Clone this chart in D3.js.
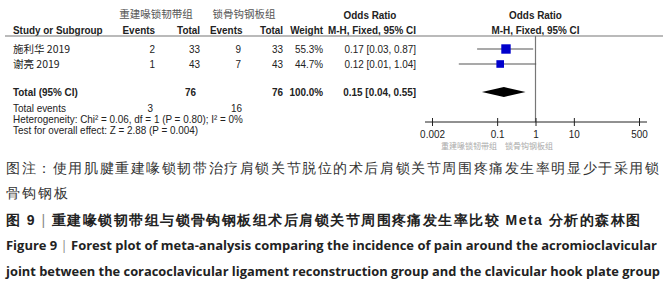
<!DOCTYPE html>
<html>
<head>
<meta charset="utf-8">
<script src="https://cdn.jsdelivr.net/npm/d3@7"></script>
<style>
  body { margin: 0; background: #fff; }
  svg text { font-family: "Liberation Sans", Arial, sans-serif; fill: #222; }
  .cjk { font-family: "Noto Sans CJK SC", sans-serif; }
</style>
</head>
<body>
<div id="chart"></div>
<script>
// data
const studies = ["施利华 2019", "谢亮 2019"];
const expEvents = [2, 1];
const expTotal = [33, 43];
const ctlEvents = [9, 7];
const ctlTotal = [33, 43];
const weights = [55.3, 44.7];
const orVal = [0.17, 0.12];
const orLo = [0.03, 0.01];
const orHi = [0.87, 1.04];
const pooled = {or: 0.15, lo: 0.04, hi: 0.55, expTotal: 76, ctlTotal: 76, expEvents: 3, ctlEvents: 16};
const axisTicks = [0.002, 0.1, 1, 10, 500];
const groupNames = ["重建喙锁韧带组", "锁骨钩钢板组"];

let w = 665, h = 300;

const svg = d3.select("#chart").append("svg")
  .attr("width", w)
  .attr("height", h);

const fmt2 = d3.format(".2f");

// log scale for the plot
let xScale = d3.scaleLog()
  .domain([0.002, 500])
  .range([432, 639]);

let sizeScale = d3.scaleLinear().domain([0, 100]).range([0, 17]);

let yRow = d3.scalePoint().domain(studies).range([49, 64]);

const axisY = 122;
const headY = 36;

// group headers
svg.append("text").attr("class", "cjk").attr("x", 156).attr("y", 18)
  .attr("text-anchor", "middle").style("font-size", "10.5px").style("fill", "#555")
  .text(groupNames[0]);
svg.append("text").attr("class", "cjk").attr("x", 244).attr("y", 18)
  .attr("text-anchor", "middle").style("font-size", "10.5px").style("fill", "#555")
  .text(groupNames[1]);

svg.append("text").attr("class", "narrow").attr("x", 370).attr("y", 19).attr("text-anchor", "middle")
  .style("font-size", "11px").style("font-weight", "bold").text("Odds Ratio");
svg.append("text").attr("class", "narrow").attr("x", xScale(1)).attr("y", 19).attr("text-anchor", "middle")
  .style("font-size", "11px").style("font-weight", "bold").text("Odds Ratio");

// column headers
const cols = [
  {t: "Study or Subgroup", x: 13, a: "start"},
  {t: "Events", x: 155, a: "end"},
  {t: "Total", x: 200, a: "end"},
  {t: "Events", x: 210, a: "start"},
  {t: "Total", x: 283, a: "end"},
  {t: "Weight", x: 323, a: "end"},
  {t: "M-H, Fixed, 95% CI", x: 416, a: "end"},
  {t: "M-H, Fixed, 95% CI", x: xScale(1), a: "middle"}
];
svg.selectAll(".colhead").data(cols).enter().append("text")
  .attr("class", "colhead narrow")
  .attr("x", d => d.x).attr("y", 34)
  .attr("text-anchor", d => d.a)
  .style("font-size", "11px").style("font-weight", "bold")
  .text(d => d.t);

svg.append("line").attr("x1", 5).attr("x2", 663).attr("y1", headY).attr("y2", headY)
  .attr("stroke", "#777").attr("stroke-width", 1.2);

// study rows
studies.forEach((s, i) => {
  let y = yRow(s) + 4;
  let g = svg.append("g").style("font-size", "11px");
  g.append("text").attr("class", "cjk").attr("x", 13).attr("y", y).style("font-size", "10.5px").text(s);
  g.append("text").attr("class", "narrow").attr("x", 155).attr("y", y).attr("text-anchor", "end").text(expEvents[i]);
  g.append("text").attr("class", "narrow").attr("x", 200).attr("y", y).attr("text-anchor", "end").text(expTotal[i]);
  g.append("text").attr("class", "narrow").attr("x", 241).attr("y", y).attr("text-anchor", "end").text(ctlEvents[i]);
  g.append("text").attr("class", "narrow").attr("x", 283).attr("y", y).attr("text-anchor", "end").text(ctlTotal[i]);
  g.append("text").attr("class", "narrow").attr("x", 323).attr("y", y).attr("text-anchor", "end").text(weights[i].toFixed(1) + "%");
  g.append("text").attr("class", "narrow").attr("x", 416).attr("y", y).attr("text-anchor", "end")
    .text(fmt2(orVal[i]) + " [" + fmt2(orLo[i]) + ", " + fmt2(orHi[i]) + "]");
});

// null line
svg.append("line").attr("x1", xScale(1)).attr("x2", xScale(1))
  .attr("y1", headY).attr("y2", axisY)
  .attr("stroke", "#777").attr("stroke-width", 1.2);

// CI lines and squares
svg.selectAll(".ci").data(studies).enter().append("line")
  .attr("class", "ci")
  .attr("x1", (d, i) => xScale(orLo[i]))
  .attr("x2", (d, i) => xScale(orHi[i]))
  .attr("y1", d => yRow(d)).attr("y2", d => yRow(d))
  .attr("stroke", "#555").attr("stroke-width", 1.2);

svg.selectAll(".box").data(studies).enter().append("rect")
  .attr("class", "box")
  .attr("x", (d, i) => xScale(orVal[i]) - sizeScale(weights[i]) / 2)
  .attr("y", (d, i) => yRow(d) - sizeScale(weights[i]) / 2)
  .attr("width", (d, i) => sizeScale(weights[i]))
  .attr("height", (d, i) => sizeScale(weights[i]))
  .attr("fill", "#0000cc");

// total row
const totY = 92;
let tg = svg.append("g").style("font-size", "11px").style("font-weight", "bold");
tg.append("text").attr("class", "narrow").attr("x", 13).attr("y", totY + 4).text("Total (95% CI)");
tg.append("text").attr("class", "narrow").attr("x", 196).attr("y", totY + 4).attr("text-anchor", "end").text(pooled.expTotal);
tg.append("text").attr("class", "narrow").attr("x", 283).attr("y", totY + 4).attr("text-anchor", "end").text(pooled.ctlTotal);
tg.append("text").attr("class", "narrow").attr("x", 323).attr("y", totY + 4).attr("text-anchor", "end").text("100.0%");
tg.append("text").attr("class", "narrow").attr("x", 416).attr("y", totY + 4).attr("text-anchor", "end")
  .text(fmt2(pooled.or) + " [" + fmt2(pooled.lo) + ", " + fmt2(pooled.hi) + "]");

svg.append("path")
  .attr("d", "M" + xScale(pooled.lo) + "," + totY +
    "L" + xScale(pooled.or) + "," + (totY - 5) +
    "L" + xScale(pooled.hi) + "," + totY +
    "L" + xScale(pooled.or) + "," + (totY + 5) + "Z")
  .attr("fill", "#000");

let ng = svg.append("g").style("font-size", "11px");
ng.append("text").attr("class", "narrow").attr("x", 13).attr("y", 112).text("Total events");
ng.append("text").attr("class", "narrow").attr("x", 153).attr("y", 112).attr("text-anchor", "end").text(pooled.expEvents);
ng.append("text").attr("class", "narrow").attr("x", 242).attr("y", 112).attr("text-anchor", "end").text(pooled.ctlEvents);
ng.append("text").attr("class", "narrow").attr("x", 13).attr("y", 123).text("Heterogeneity: Chi² = 0.06, df = 1 (P = 0.80); I² = 0%");
ng.append("text").attr("class", "narrow").attr("x", 13).attr("y", 134).text("Test for overall effect: Z = 2.88 (P = 0.004)");

// axis
let xaxis = svg.append("g")
  .attr("class", "x axis")
  .attr("transform", "translate(0," + axisY + ")")
  .call(d3.axisBottom(xScale).tickValues(axisTicks).tickSize(4).tickFormat(d => d));

xaxis.select(".domain").attr("d", "M425,0H647").attr("stroke", "#222");
xaxis.selectAll(".tick line").attr("y1", -4).attr("y2", 4).attr("stroke", "#222");
xaxis.selectAll(".tick text").attr("y", 8).attr("class", "narrow")
  .style("font-size", "11px").style("font-family", "'Liberation Sans', Arial, sans-serif").style("fill", "#222");

svg.append("text").attr("class", "cjk").attr("x", 497).attr("y", 149)
  .attr("text-anchor", "end").style("font-size", "8px").style("fill", "#aaa").text(groupNames[0]);
svg.append("text").attr("class", "cjk").attr("x", 505).attr("y", 149)
  .style("font-size", "8px").style("fill", "#aaa").text(groupNames[1]);

// squeeze the table text to look like a narrow font
svg.selectAll("text.narrow").each(function() {
  let len = this.getComputedTextLength();
  d3.select(this).attr("textLength", len * 0.9).attr("lengthAdjust", "spacingAndGlyphs");
});

// caption
const cap = svg.append("g").attr("class", "cjk");
cap.append("text").attr("x", 6).attr("y", 173).attr("textLength", 653).attr("lengthAdjust", "spacing")
  .style("font-size", "14px").style("fill", "#333")
  .text("图注：使用肌腱重建喙锁韧带治疗肩锁关节脱位的术后肩锁关节周围疼痛发生率明显少于采用锁");
cap.append("text").attr("x", 6).attr("y", 198)
  .style("font-size", "14px").style("fill", "#333").attr("letter-spacing", "1.9px")
  .text("骨钩钢板");

let t3 = cap.append("text").attr("x", 6).attr("y", 225).attr("textLength", 634).attr("lengthAdjust", "spacing")
  .style("font-size", "14px").style("fill", "#222");
t3.append("tspan").style("font-weight", "bold").text("图 9 ");
t3.append("tspan").style("fill", "#888").text("| ");
t3.append("tspan").style("font-weight", "bold").text("重建喙锁韧带组与锁骨钩钢板组术后肩锁关节周围疼痛发生率比较 Meta 分析的森林图");

const eng = svg.append("g");
let e1 = eng.append("text").attr("x", 6).attr("y", 250).attr("textLength", 651).attr("lengthAdjust", "spacingAndGlyphs")
  .style("font-size", "12.5px").style("font-weight", "bold").style("font-family", "'Open Sans', sans-serif").style("fill", "#222");
e1.append("tspan").text("Figure 9 ");
e1.append("tspan").style("fill", "#888").style("font-weight", "normal").text("| ");
e1.append("tspan").text("Forest plot of meta-analysis comparing the incidence of pain around the acromioclavicular");
eng.append("text").attr("x", 6).attr("y", 276).attr("textLength", 654).attr("lengthAdjust", "spacingAndGlyphs")
  .style("font-size", "12.5px").style("font-weight", "bold").style("font-family", "'Open Sans', sans-serif").style("fill", "#222")
  .text("joint between the coracoclavicular ligament reconstruction group and the clavicular hook plate group");
</script>
</body>
</html>
